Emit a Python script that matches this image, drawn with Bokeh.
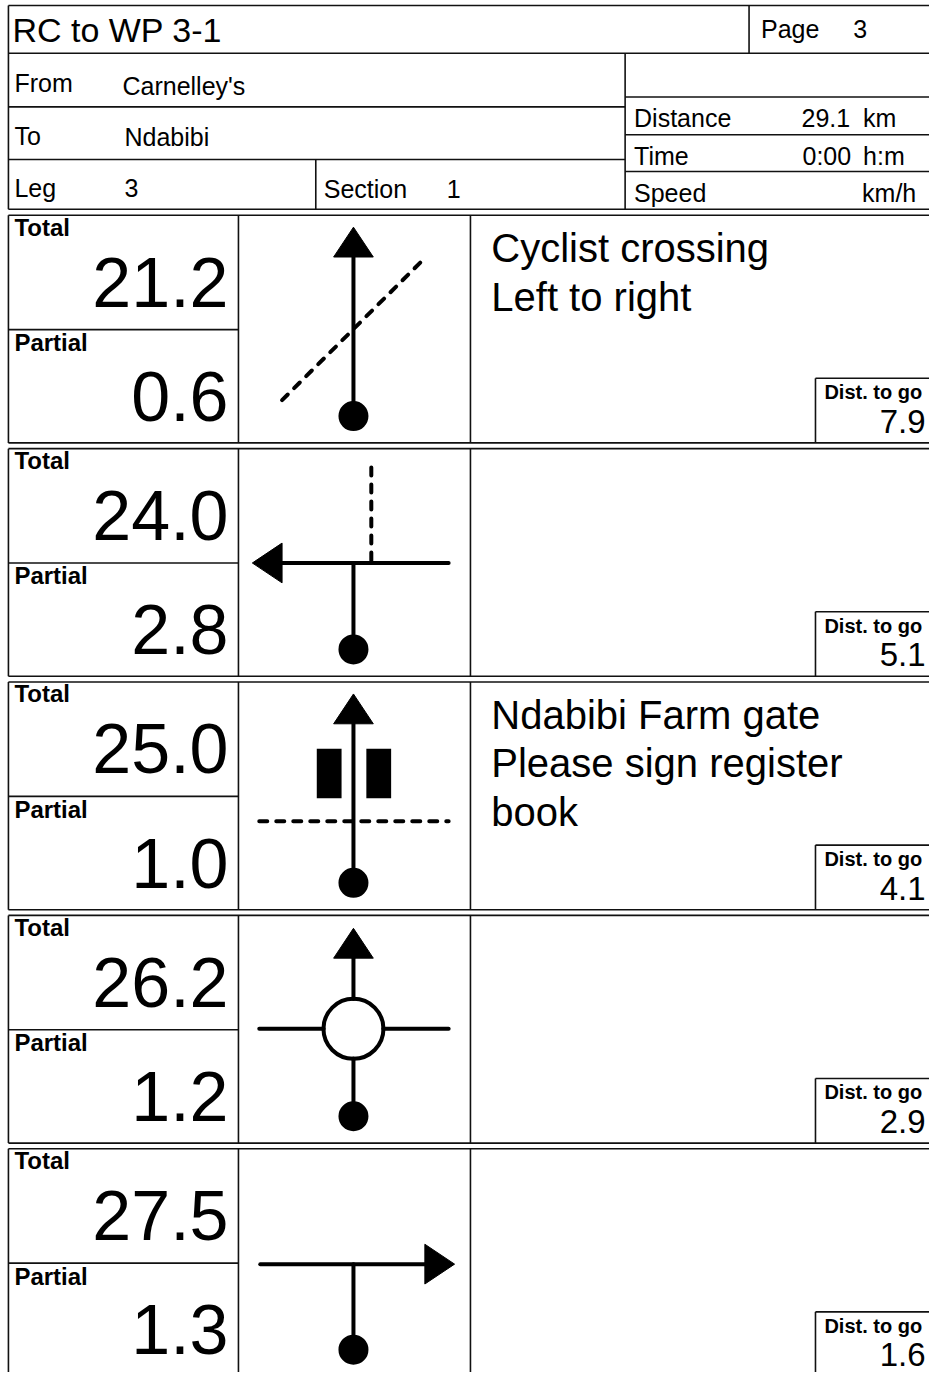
from bokeh.plotting import figure
from bokeh.models import Range1d
from bokeh.core.properties import value
from bokeh.embed import file_html
from bokeh.resources import INLINE

# ---------------- data ----------------
title = "RC to WP 3-1"
page_no = "3"
from_place = "Carnelley's"
to_place = "Ndabibi"
leg_no = "3"
section_no = "1"
distance_km = 29.1
time_hm = "0:00"

totals = [21.2, 24.0, 25.0, 26.2, 27.5]
partials = [0.6, 2.8, 1.0, 1.2, 1.3]
dist_to_go = [7.9, 5.1, 4.1, 2.9, 1.6]
notes = [["Cyclist crossing", "Left to right"], [],
         ["Ndabibi Farm gate", "Please sign register", "book"], [], []]
icons = ["cross_path", "left_track", "gate", "roundabout", "right_t"]

FONT = value("Liberation Sans")
LW = 1.6
XR = 990  # beyond right page edge
BASE_K = 0.355  # renderer places alphabetic baseline ~0.355em low; compensate

p = figure(width=929, height=1372, x_range=Range1d(0, 937), y_range=Range1d(1380, 0),
           output_backend="svg", toolbar_location=None, min_border=0,
           x_axis_location=None, y_axis_location=None, tools="")
p.grid.visible = False
p.outline_line_color = None
p.background_fill_color = "white"
p.border_fill_color = "white"

segs = []  # x0, y0, x1, y1


def hl(y, x0, x1):
    segs.append((x0, y, x1, y))


def vl(x, y0, y1):
    segs.append((x, y0, x, y1))


# ---------------- header grid ----------------
hl(5, 8, XR); hl(53, 8, XR); hl(210, 8, XR)
vl(8, 5, 210)
vl(755, 5, 53)
hl(107, 8, 630); hl(160, 8, 630)
vl(630, 53, 210)
hl(97, 630, XR); hl(135, 630, XR); hl(172, 630, XR)
vl(318, 160, 210)

# ---------------- rows grid ----------------
ROW0, PITCH, ROWH = 216, 234.75, 229
tops = [ROW0 + i * PITCH for i in range(len(totals))]
for t in tops:
    b = t + ROWH
    hl(t, 8, XR); hl(b, 8, XR)
    vl(8, t, b); vl(240, t, b); vl(474, t, b)
    hl(t + 115, 8, 240)
    vl(822, t + 164, b); hl(t + 164, 822, XR)

p.segment(x0=[s[0] for s in segs], y0=[s[1] for s in segs],
          x1=[s[2] for s in segs], y1=[s[3] for s in segs],
          line_color="#111111", line_width=LW)


# ---------------- text helper ----------------
def txt(x, y, s, size, align="left", bold=False):
    yy = y - BASE_K * size
    p.text(x=[x], y=[yy], text=[s], text_font=FONT, text_font_size=value("%dpx" % size),
           text_align=align, text_baseline="alphabetic", text_color="black",
           text_font_style="bold" if bold else "normal")


HS = 25
txt(12, 42, title, 34)
txt(767, 38, "Page", HS)
txt(860, 38, page_no, HS)
txt(14, 92, "From", HS); txt(123, 95, from_place, HS)
txt(14, 145, "To", HS); txt(125, 146, to_place, HS)
txt(14, 197, "Leg", HS); txt(125, 197, leg_no, HS)
txt(326, 198, "Section", HS); txt(450, 198, section_no, HS)
txt(639, 127, "Distance", HS)
txt(857, 127, "%.1f" % distance_km, HS, align="right"); txt(870, 127, "km", HS)
txt(639, 165, "Time", HS)
txt(858, 165, time_hm, HS, align="right"); txt(870, 165, "h:m", HS)
txt(639, 202, "Speed", HS); txt(869, 202, "km/h", HS)

# ---------------- row text ----------------
for i, t in enumerate(tops):
    txt(14, t + 20.5, "Total", 24, bold=True)
    txt(230, t + 92, "%.1f" % totals[i], 70, align="right")
    txt(14, t + 136.5, "Partial", 24, bold=True)
    txt(230, t + 207, "%.1f" % partials[i], 70, align="right")
    for j, line in enumerate(notes[i]):
        txt(495, t + 47 + 49 * j, line, 40)
    txt(831, t + 185, "Dist. to go", 20, bold=True)
    txt(933, t + 219, "%.1f" % dist_to_go[i], 33, align="right")

# ---------------- tulip icons ----------------
CX = 356
lines_x, lines_y, dash_x, dash_y = [], [], [], []
tri_x, tri_y = [], []
dots_x, dots_y = [], []


def up_arrow(t, apex, base):
    tri_x.append([CX, CX - 20, CX + 20]); tri_y.append([t + apex, t + base, t + base])


for kind, t in zip(icons, tops):
    dots_x.append(CX); dots_y.append(t + 202)
    if kind == "cross_path":
        up_arrow(t, 12, 42)
        lines_x.append([CX, CX]); lines_y.append([t + 42, t + 202])
        dash_x.append([284, 428]); dash_y.append([t + 186, t + 43])
    elif kind == "left_track":
        lines_x.append([283, 452]); lines_y.append([t + 115, t + 115])
        tri_x.append([254, 284, 284]); tri_y.append([t + 115, t + 95, t + 135])
        lines_x.append([CX, CX]); lines_y.append([t + 115, t + 202])
        dash_x.append([374, 374]); dash_y.append([t + 19, t + 115])
    elif kind == "gate":
        up_arrow(t, 12, 42)
        lines_x.append([CX, CX]); lines_y.append([t + 42, t + 202])
        p.quad(left=[319, 369], right=[344, 394], top=[t + 67, t + 67],
               bottom=[t + 117, t + 117], fill_color="black", line_color=None)
        dash_x.append([261, 452]); dash_y.append([t + 140, t + 140])
    elif kind == "roundabout":
        up_arrow(t, 13, 43)
        lines_x.append([CX, CX]); lines_y.append([t + 43, t + 84])
        lines_x.append([CX, CX]); lines_y.append([t + 144, t + 202])
        lines_x.append([261, 326]); lines_y.append([t + 114, t + 114])
        lines_x.append([386, 452]); lines_y.append([t + 114, t + 114])
        p.scatter(x=[CX], y=[t + 114], size=60, marker="circle",
                  fill_color="white", line_color="black", line_width=4)
    elif kind == "right_t":
        lines_x.append([262, 430]); lines_y.append([t + 116, t + 116])
        tri_x.append([458, 428, 428]); tri_y.append([t + 116, t + 96, t + 136])
        lines_x.append([CX, CX]); lines_y.append([t + 116, t + 202])

p.multi_line(xs=lines_x, ys=lines_y, line_color="black", line_width=4, line_cap="round")
p.multi_line(xs=dash_x, ys=dash_y, line_color="black", line_width=4,
             line_dash="8 9", line_cap="round")
p.patches(xs=tri_x, ys=tri_y, fill_color="black", line_color="black", line_width=1)
p.scatter(x=dots_x, y=dots_y, size=30, marker="circle", fill_color="black", line_color=None)

open("out.html", "w").write(file_html(p, INLINE))
